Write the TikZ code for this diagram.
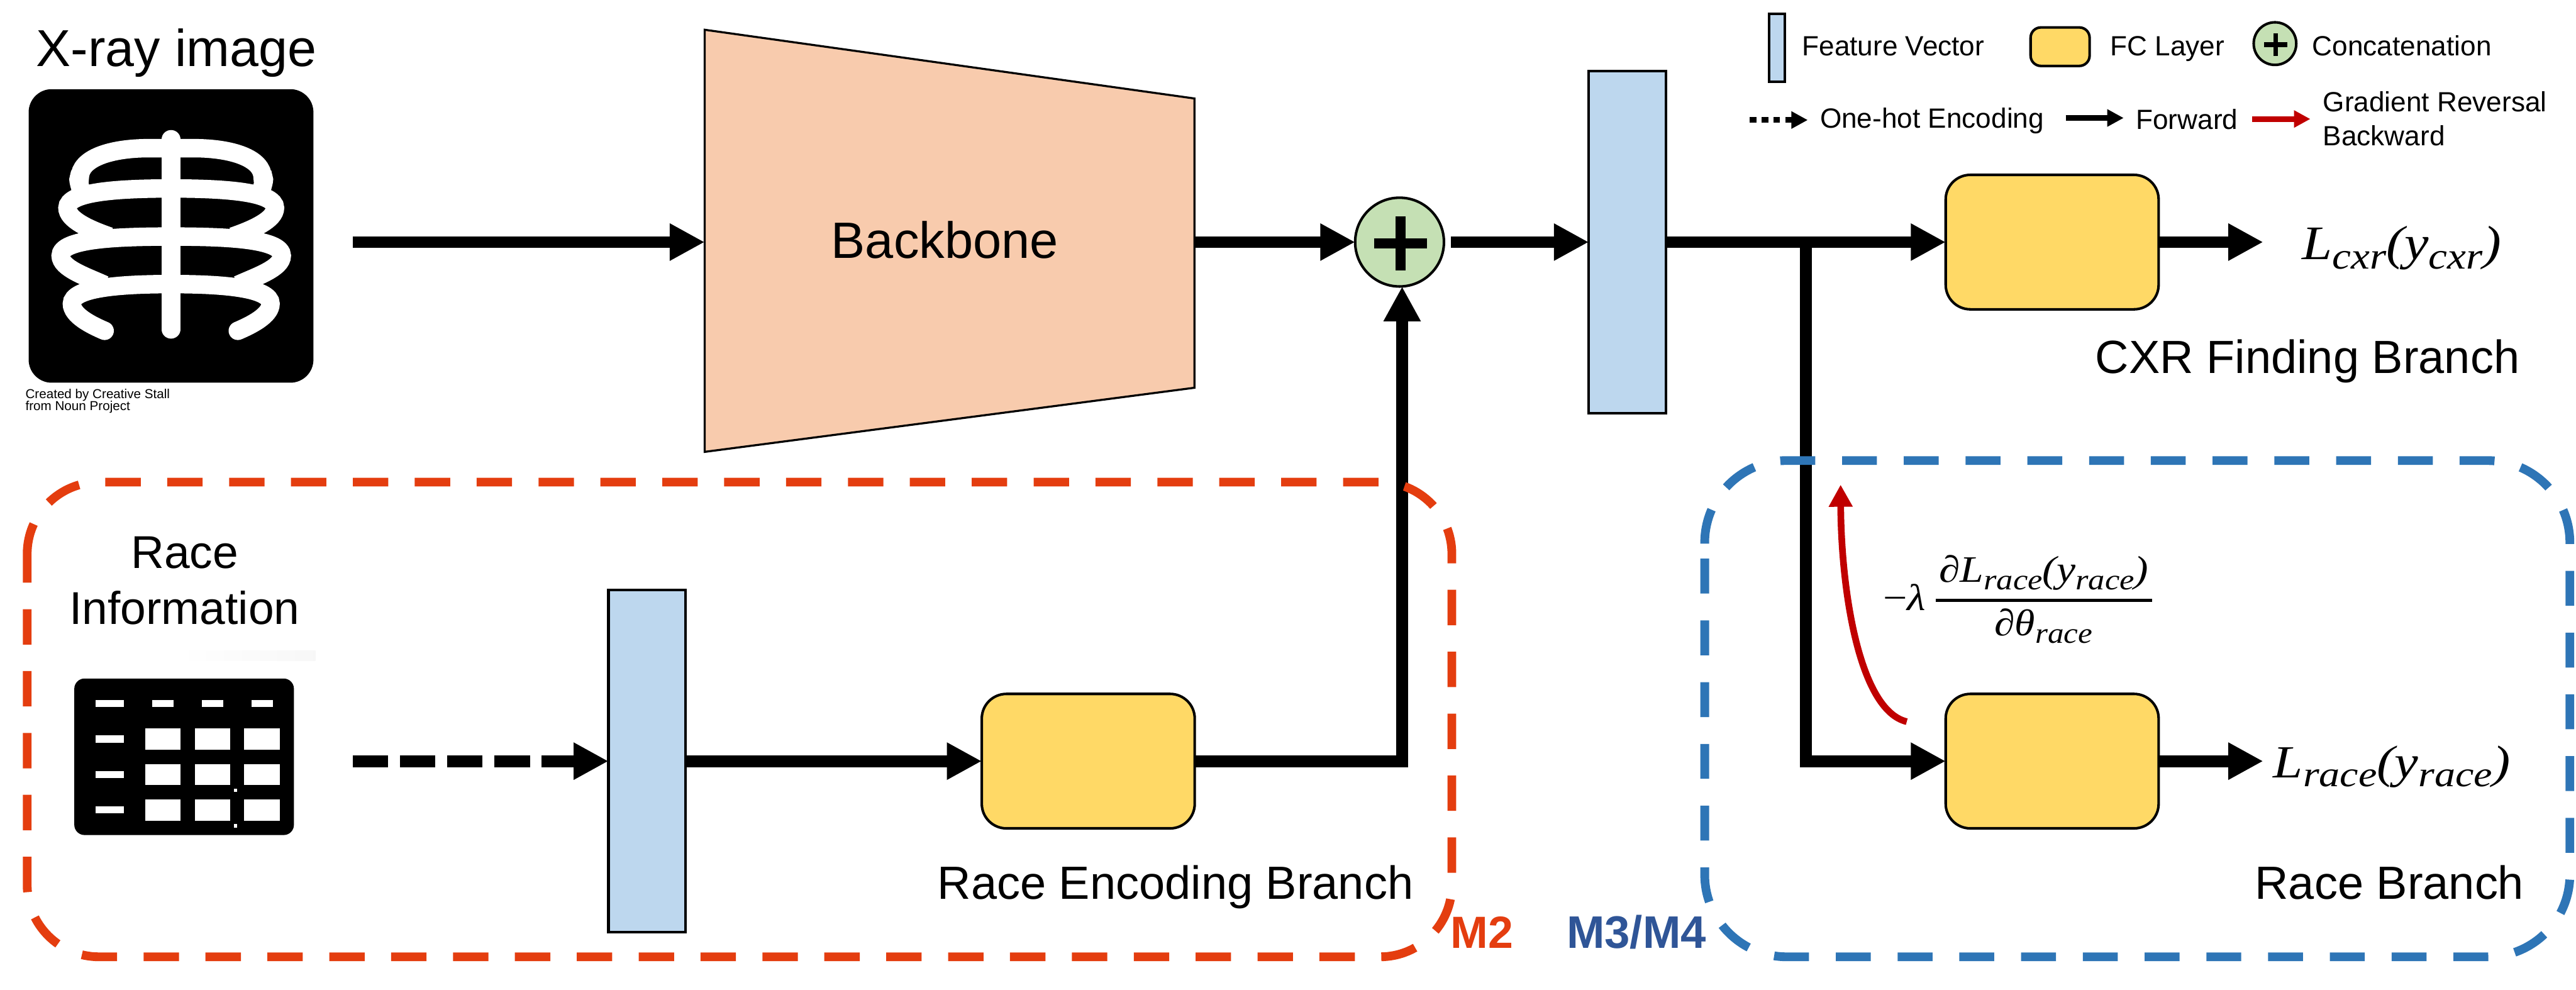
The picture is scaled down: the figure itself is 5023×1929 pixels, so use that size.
\documentclass[tikz,border=0pt]{standalone}
\usepackage{graphicx}
\usepackage{fontspec}
\setmainfont{Liberation Sans}
\newfontfamily\eqfont{Liberation Serif}
\usetikzlibrary{arrows.meta}
\definecolor{vecblue}{HTML}{BDD7EE}
\definecolor{fcyellow}{HTML}{FFD966}
\definecolor{catgreen}{HTML}{C5E0B4}
\definecolor{bbpeach}{HTML}{F8CBAD}
\definecolor{redbox}{HTML}{E43D0F}
\definecolor{bluebox}{HTML}{2E75B6}
\definecolor{m34blue}{HTML}{2F5597}
\definecolor{gradred}{HTML}{C00000}
\newcommand\sbs[2]{\raisebox{-.2em}{\fontsize{#1}{#1}\selectfont #2}}
\tikzset{
  txt/.style={inner sep=0pt,outer sep=0pt,anchor=base west},
  big/.style={font=\fontsize{25.8}{31}\selectfont},
  leg/.style={font=\fontsize{15.4}{18.8}\selectfont},
  vecbox/.style={draw=black,fill=vecblue,line width=.05cm,inner sep=0pt,outer sep=0pt,minimum width=1.5cm,minimum height=6.67cm},
  fcbox/.style={draw=black,fill=fcyellow,line width=.05cm,rounded corners=.48cm,inner sep=0pt,outer sep=0pt,minimum width=4.15cm,minimum height=2.62cm},
  catnode/.style={circle,draw=black,fill=catgreen,line width=.05cm,inner sep=0pt,outer sep=0pt},
  flow/.style={line width=.23cm,-{Triangle[length=.68cm,width=.68cm]}},
  legflow/.style={line width=.11cm,-{Triangle[length=.32cm,width=.32cm]}},
  dashbox/.style={line width=.17cm,dash pattern=on .69cm off .516cm},
}
\begin{document}
\begin{tikzpicture}[x=.01cm,y=-.01cm]
\useasboundingbox (0,0) rectangle (5023,1929);
\fill[white] (0,0) rectangle (5023,1929);

% ---- X-ray icon
\node[txt,font=\fontsize{28.8}{32}\selectfont] (xtitle) at (71,129) {X-ray image};
\node[fill=black,rounded corners=.45cm,inner sep=0pt,outer sep=0pt,minimum width=5.55cm,minimum height=5.72cm] (xray) at (333.5,460) {};
\newcommand\ribhalf{
  \draw[white,line width=.36cm,line cap=round] (400,1190) .. controls (350,1170) and (275,1135) .. (275,1093) .. controls (275,1035) and (460,1022) .. (654,1022);
  \draw[white,line width=.36cm] (400,1025) .. controls (330,995) and (232,965) .. (232,920) .. controls (232,860) and (440,851) .. (654,851);
  \draw[white,line width=.36cm] (420,851) .. controls (340,825) and (258,790) .. (258,748) .. controls (258,690) and (450,678) .. (654,678);
  \draw[white,line width=.36cm] (312,690) .. controls (295,640) and (300,640) .. (305,640) .. controls (305,570) and (420,533) .. (570,533) -- (654,533);
}
\begin{scope}[x=.005102cm,y=-.00542cm]
  \ribhalf
  \draw[white,line width=.36cm,line cap=round] (654,501) -- (654,1185);
\end{scope}
\begin{scope}[x=-.005102cm,y=-.00542cm,xshift=6.6734cm]
  \ribhalf
\end{scope}
\node[anchor=west,align=left,inner sep=0pt,font=\fontsize{7.2}{6.83}\selectfont] (credit) at (49,782) {Created by Creative Stall\\from Noun Project};

% ---- Race information
\node[align=center,inner sep=0pt,font=\fontsize{25.5}{31}\selectfont] (raceinfo) at (360,1132) {Race\\Information};
\shade[left color=white,right color=black!3] (350,1268) rectangle (615,1288);
\node[fill=black,rounded corners=.2cm,inner sep=0pt,outer sep=0pt,minimum width=4.28cm,minimum height=3.05cm] (table) at (359,1475.5) {};
\begin{scope}[x=.005102cm,y=-.005102cm,yshift=-10cm]
  \foreach \a/\b in {366/473,582/663,772/853,961/1043} \fill[white] (\a,714) rectangle (\b,741);
  \foreach \a/\b in {850/877,986/1012,1121/1148} \fill[white] (366,\a) rectangle (473,\b);
  \foreach \a/\b in {555/690,745/880,934/1069}
    \foreach \c/\d in {823/904,959/1040,1095/1175} \fill[white] (\a,\c) rectangle (\b,\d);
  \fill[white] (894,1053) rectangle (906,1066);
  \fill[white] (894,1189) rectangle (906,1202);
\end{scope}

% ---- Backbone
\coordinate (bbL) at (1374,472);
\coordinate (bbR) at (2329,472);
\draw[fill=bbpeach,line width=.04cm] (1374,58) -- (2329,192) -- (2329,756) -- (1374,881) -- cycle;
\node[txt,font=\fontsize{28.3}{32}\selectfont] (bbtext) at (1621,503) {Backbone};

% ---- main nodes
\node[catnode,minimum size=1.73cm] (cat) at (2729,472) {};
\draw[line width=.19cm] (2679,474.5) -- (2783,474.5) (2731,422) -- (2731,527);
\node[vecbox] (v1) at (1261.5,1484) {};
\node[vecbox] (v2) at (3173,472) {};
\node[fcbox] (fc1) at (2122,1484) {};
\node[fcbox] (fc2) at (4001.5,472) {};
\node[fcbox] (fc3) at (4001.5,1484) {};
\coordinate (xin) at (688,472);
\coordinate (rin) at (688,1484);
\coordinate (junc) at (3521,472);
\coordinate (out2) at (4413,472);
\coordinate (out3) at (4413,1484);

% ---- connectors
\draw[flow] (xin) -- (bbL);
\draw[flow] (bbR) -- (cat.west);
\draw[flow] ([xshift=.14cm]cat.east) -- (v2.west);
\draw[flow] (v2.east) -- (fc2.west);
\draw[flow] (fc2.east) -- (out2);
\draw[flow] (junc) |- (fc3.west);
\draw[flow] (fc3.east) -- (out3);
\draw[flow,dash pattern=on .69cm off .23cm] (rin) -- (v1.west);
\draw[flow] (v1.east) -- (fc1.west);
\draw[flow] (fc1.east) -| ([xshift=.05cm]cat.south);

% ---- gradient reversal
\coordinate (gradstart) at (3718,1407);
\coordinate (gradtip) at (3589,945);
\draw[gradred,line width=.13cm,-{Triangle[length=.43cm,width=.44cm]}] (gradstart) .. controls (3625,1385) and (3590,1150) .. (gradtip);

% ---- dashed boxes
\draw[redbox,dashbox] (53,1089) -- (53,1080) arc[start angle=180,end angle=90,radius=1.4cm]
  [rounded corners=1.4cm] -- (2831,940) -- (2831,1865.5) -- (53,1865.5) -- (53,1089);
\draw[bluebox,dashbox,dash pattern=on .68cm off .5235cm] (3324,1060) -- (3324,1058) arc[start angle=180,end angle=90,radius=1.6cm]
  [rounded corners=1.6cm] -- (5011,898) -- (5011,1865.5) -- (3324,1865.5) -- (3324,1060);

% ---- labels
\node[txt,big] (reb) at (1828,1753) {Race Encoding Branch};
\node[txt,big] (cfb) at (4086,728) {CXR Finding Branch};
\node[txt,big] (rb) at (4397,1753) {Race Branch};
\node[txt,text=redbox,font=\fontsize{25}{30}\selectfont\bfseries] (m2) at (2829,1849) {M2};
\node[txt,text=m34blue,font=\fontsize{25.3}{30}\selectfont\bfseries] (m34) at (3055,1849) {M3/M4};
% ---- formulas
\node[txt,font=\eqfont\fontsize{26.7}{30}\selectfont\itshape] (lcxr) at (4489,506) {\scalebox{1.13}[1]{L\sbs{20.8}{cxr}(y\sbs{20.8}{cxr})}};
\node[txt,font=\eqfont\fontsize{25.5}{30}\selectfont\itshape] (lrace) at (4433,1516) {\scalebox{1.16}[1]{L\sbs{19.9}{race}(y\sbs{19.9}{race})}};
\node[txt,font=\eqfont\fontsize{20.7}{24}\selectfont] (gradsign) at (3672,1190) {\scalebox{1.15}[1]{−\textit{λ}}};
\node[txt,font=\eqfont\fontsize{20.7}{24}\selectfont\itshape] (gradnum) at (3781,1135) {\scalebox{1.14}[1]{∂L\sbs{16.1}{race}(y\sbs{16.1}{race})}};
\coordinate (fracL) at (3775,1170.5);
\coordinate (fracR) at (4197,1170.5);
\draw[line width=.05cm] (fracL) -- (fracR);
\node[txt,font=\eqfont\fontsize{20.7}{24}\selectfont\itshape] (gradden) at (3889,1239) {\scalebox{1.11}[1]{∂θ\sbs{16.1}{race}}};

% ---- legend
\node[vecbox,minimum width=.3cm,minimum height=1.33cm] (lv) at (3465,93) {};
\node[txt,leg] (ltv) at (3514,109) {Feature Vector};
\node[fcbox,rounded corners=.2cm,minimum width=1.15cm,minimum height=.75cm] (lf) at (4017,91) {};
\node[txt,leg] (ltf) at (4115,109) {FC Layer};
\node[catnode,minimum size=.83cm] (lc) at (4436,85) {};
\draw[line width=.09cm] (4415,87) -- (4460,87) (4437.5,65) -- (4437.5,109);
\node[txt,leg] (ltc) at (4509,109) {Concatenation};
\coordinate (l1a) at (3412,234);
\coordinate (l1b) at (3525,234);
\draw[legflow,dash pattern=on .13cm off .10cm] (l1a) -- (l1b);
\node[txt,leg] (lt1) at (3549,249) {One-hot Encoding};
\coordinate (l2a) at (4028,230);
\coordinate (l2b) at (4141,230);
\draw[legflow] (l2a) -- (l2b);
\node[txt,leg] (lt2) at (4165,252) {Forward};
\coordinate (l3a) at (4392,232);
\coordinate (l3b) at (4505,232);
\draw[legflow,gradred] (l3a) -- (l3b);
\node[anchor=west,align=left,inner sep=0pt,leg] (lt3) at (4529,231) {Gradient Reversal\\Backward};
\end{tikzpicture}
\end{document}
